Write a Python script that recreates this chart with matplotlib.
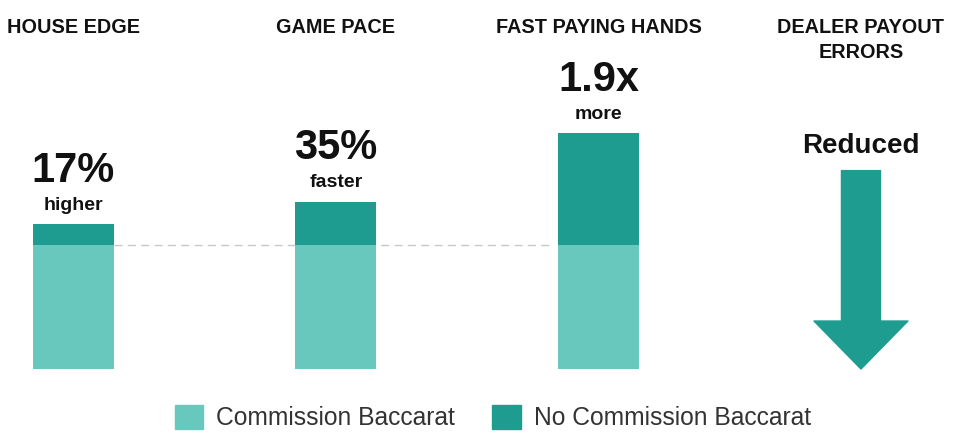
"""Commission vs No Commission Baccarat comparison chart"""

import matplotlib.pyplot as plt
from matplotlib.patches import Patch

plt.rcParams['font.family'] = ['Liberation Sans', 'DejaVu Sans']

# Data
headers = ['HOUSE EDGE', 'GAME PACE', 'FAST PAYING HANDS', 'DEALER PAYOUT\nERRORS']
commission = [1.0, 1.0, 1.0]          # baseline, Commission Baccarat
no_commission_extra = [0.17, 0.35, 0.9]  # extra on top for No Commission Baccarat
big_labels = ['17%', '35%', '1.9x']
small_labels = ['higher', 'faster', 'more']
arrow_label = 'Reduced'
arrow_span = [1.6, 0.0]               # arrow from top down to the baseline

LIGHT = '#68C8BE'
DARK = '#1F9C90'
TEXT = '#111111'
BAR_W = 0.3086
HEADER_Y = 2.712      # baseline of first header line (data units)
HEADER_STEP = 0.2065  # line step for wrapped headers

fig = plt.figure(figsize=(9.67, 4.44), dpi=100)
ax = fig.add_axes([0, 0, 1, 1])
ax.set_xlim(-0.28, 3.404)
ax.set_ylim(-0.6048, 2.976)
ax.axis('off')

x = list(range(len(commission)))
ax.bar(x, commission, width=BAR_W, color=LIGHT, zorder=2)
ax.bar(x, no_commission_extra, width=BAR_W, bottom=commission, color=DARK, zorder=2)

# пунктир на уровне обычной баккары
ax.hlines(commission[0], x[0] + BAR_W / 2, x[-1] - BAR_W / 2 - 0.02, colors='#c8c8c8',
          linestyles=(0, (5.8, 3.8)), lw=1, zorder=1)

for i, (base, extra) in enumerate(zip(commission, no_commission_extra)):
    top = base + extra
    ax.annotate(big_labels[i], (i, top), xytext=(0, 30.5), textcoords='offset points',
                ha='center', va='baseline', fontsize=30, fontweight='bold', color=TEXT)
    ax.annotate(small_labels[i], (i, top), xytext=(0, 10.2), textcoords='offset points',
                ha='center', va='baseline', fontsize=14, fontweight='bold', color=TEXT)

# стрелка для ошибок выплат
ai = len(commission)
ax.arrow(ai, arrow_span[0], 0, arrow_span[1] - arrow_span[0], width=0.1486,
         head_width=0.358, head_length=0.387, length_includes_head=True,
         color=DARK, lw=1, joinstyle='round', zorder=2)
ax.annotate(arrow_label, (ai, arrow_span[0]), xytext=(0, 13), textcoords='offset points',
            ha='center', va='baseline', fontsize=20, fontweight='bold', color=TEXT)

for i, h in enumerate(headers):
    for j, line in enumerate(h.split('\n')):
        ax.text(i, HEADER_Y - j * HEADER_STEP, line, ha='center', va='baseline',
                fontsize=14.3, fontweight='bold', color=TEXT)

handles = [Patch(color=LIGHT, label='Commission Baccarat'),
           Patch(color=DARK, label='No Commission Baccarat')]
fig.legend(handles=handles, loc='center', bbox_to_anchor=(0.5097, 0.0597), ncol=2,
           frameon=False, fontsize=17.7, handlelength=1.17, handleheight=1.17,
           handletextpad=0.53, columnspacing=1.5, borderpad=0, labelcolor='#333333')

fig.savefig('out.png', dpi=100)
